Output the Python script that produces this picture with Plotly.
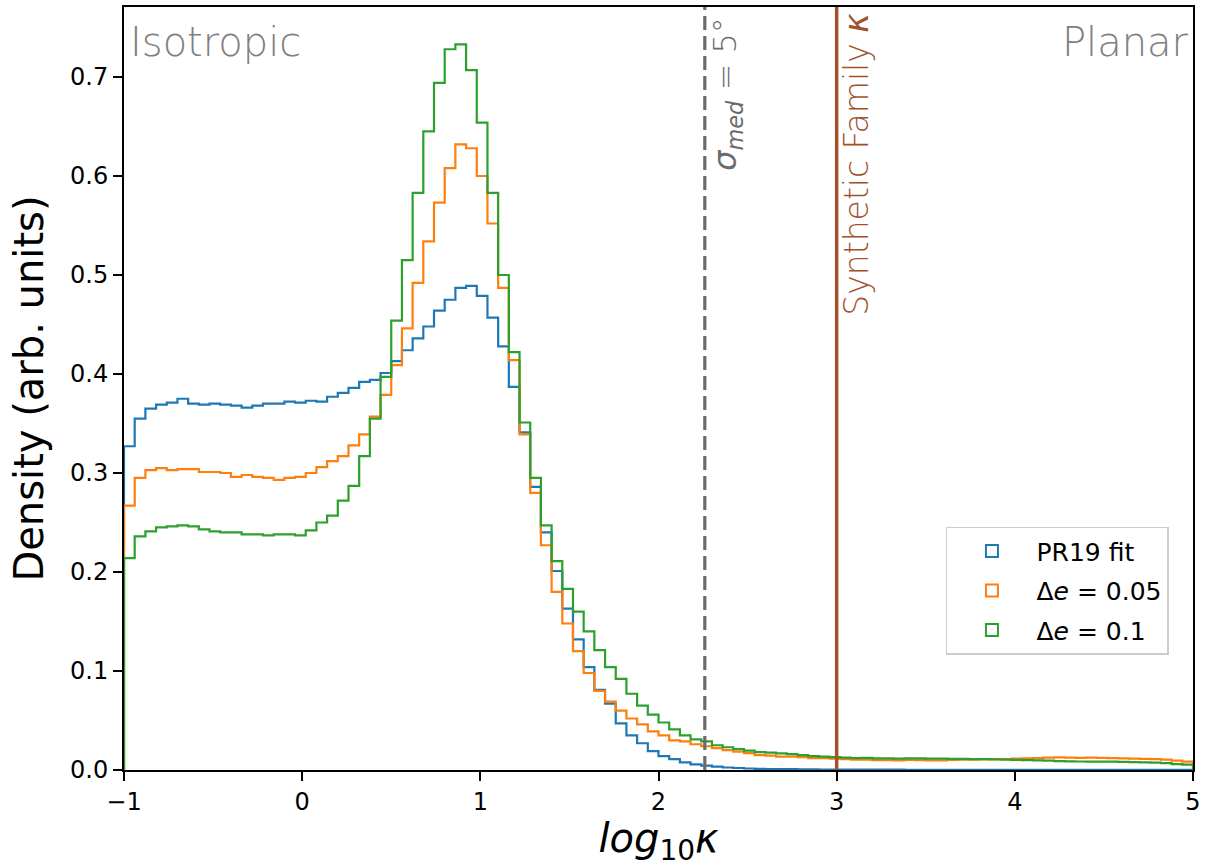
import numpy as np
import plotly.graph_objects as go

# ---------------- data ----------------
bin_lo, bin_hi, n_bins = -1.0, 5.0, 100
bin_edges = np.linspace(bin_lo, bin_hi, n_bins + 1)

pr19_fit = [
    0.327, 0.355, 0.365, 0.369, 0.371, 0.375, 0.370, 0.369, 0.370, 0.369,
    0.368, 0.366, 0.368, 0.370, 0.370, 0.372, 0.371, 0.373, 0.372, 0.377,
    0.381, 0.386, 0.392, 0.394, 0.401, 0.413, 0.424, 0.436, 0.448, 0.464,
    0.475, 0.487, 0.489, 0.479, 0.457, 0.428, 0.387, 0.341, 0.286, 0.240,
    0.201, 0.163, 0.132, 0.104, 0.081, 0.067, 0.047, 0.035, 0.027, 0.019,
    0.014, 0.011, 0.0077, 0.0057, 0.0044, 0.0034, 0.0025, 0.0020, 0.0015, 0.0012,
    0.0010, 0.0009, 0.0008, 0.0007, 0.0006, 0.0005, 0.0005, 0.0004, 0.0004, 0.0003,
    0.0003, 0.0003, 0.0003, 0.0002, 0.0002, 0.0002, 0.0002, 0.0002, 0.0002, 0.0002,
    0.0002, 0.0002, 0.0002, 0.0001, 0.0001, 0.0001, 0.0001, 0.0001, 0.0001, 0.0001,
    0.0001, 0.0001, 0.0001, 0.0001, 0.0001, 0.0001, 0.0001, 0.0001, 0.0001, 0.0001,
]

delta_e_005 = [
    0.267, 0.295, 0.303, 0.305, 0.303, 0.304, 0.304, 0.301, 0.301, 0.300,
    0.296, 0.298, 0.296, 0.295, 0.293, 0.295, 0.296, 0.300, 0.306, 0.312,
    0.317, 0.328, 0.339, 0.357, 0.379, 0.409, 0.446, 0.492, 0.534, 0.573,
    0.608, 0.632, 0.628, 0.600, 0.552, 0.487, 0.414, 0.339, 0.280, 0.227,
    0.180, 0.148, 0.120, 0.098, 0.080, 0.069, 0.060, 0.052, 0.046, 0.039,
    0.035, 0.030, 0.029, 0.026, 0.024, 0.022, 0.020, 0.0185, 0.017, 0.015,
    0.0145, 0.0135, 0.0135, 0.013, 0.012, 0.012, 0.0115, 0.011, 0.0105, 0.0105,
    0.010, 0.010, 0.0098, 0.0102, 0.010, 0.0098, 0.0098, 0.0102, 0.0105, 0.0105,
    0.0108, 0.011, 0.011, 0.0115, 0.0118, 0.012, 0.0125, 0.0128, 0.0125, 0.0122,
    0.0125, 0.0122, 0.012, 0.0118, 0.0115, 0.0113, 0.011, 0.0105, 0.0095, 0.0085,
]

delta_e_01 = [
    0.214, 0.236, 0.241, 0.245, 0.246, 0.247, 0.246, 0.243, 0.241, 0.240,
    0.240, 0.238, 0.238, 0.237, 0.238, 0.238, 0.237, 0.242, 0.250, 0.257,
    0.272, 0.287, 0.317, 0.355, 0.397, 0.454, 0.515, 0.583, 0.645, 0.694,
    0.728, 0.733, 0.707, 0.654, 0.583, 0.500, 0.422, 0.351, 0.295, 0.247,
    0.211, 0.183, 0.160, 0.140, 0.121, 0.104, 0.092, 0.077, 0.065, 0.056,
    0.048, 0.041, 0.035, 0.031, 0.029, 0.025, 0.023, 0.021, 0.0195, 0.018,
    0.0175, 0.0168, 0.016, 0.015, 0.014, 0.0135, 0.013, 0.0125, 0.012, 0.0122,
    0.0118, 0.0118, 0.0115, 0.0118, 0.0118, 0.0115, 0.0115, 0.0112, 0.0112, 0.011,
    0.011, 0.0108, 0.0105, 0.0102, 0.010, 0.0098, 0.0095, 0.009, 0.0088, 0.0086,
    0.0085, 0.0085, 0.0085, 0.0082, 0.008, 0.0078, 0.0075, 0.007, 0.006, 0.0055,
]

series_values = [pr19_fit, delta_e_005, delta_e_01]
series_names = ["PR19 fit", "Δ<i>e</i> = 0.05", "Δ<i>e</i> = 0.1"]
series_colors = ["#1f77b4", "#ff7f0e", "#2ca02c"]

sigma_med_logk = 2.26
synthetic_logk = 3.0

x_ticks = [-1, 0, 1, 2, 3, 4, 5]
x_ticklabels = ["\u22121", "0", "1", "2", "3", "4", "5"]
y_ticks = [0.0, 0.1, 0.2, 0.3, 0.4, 0.5, 0.6, 0.7]
y_ticklabels = ["0.0", "0.1", "0.2", "0.3", "0.4", "0.5", "0.6", "0.7"]
y_max = 0.7707

FONT = "DejaVu Sans"

fig = go.Figure()

# step histograms
for vals, name, col in zip(series_values, series_names, series_colors):
    xs = [bin_edges[0]] + list(bin_edges) + [bin_edges[-1]]
    ys = [0.0] + list(vals) + [vals[-1], 0.0]
    fig.add_trace(go.Scatter(
        x=xs, y=ys, mode="lines", line=dict(color=col, width=2.2, shape="hv"),
        name=name, showlegend=False, hoverinfo="skip"))

# legend entries as outlined patches
for i, (name, col) in enumerate(zip(series_names, series_colors)):
    fig.add_trace(go.Bar(
        x=[None], y=[None], name=name, legendgroup=f"g{i}",
        marker=dict(color="rgba(255,255,255,0)", line=dict(color=col, width=2)),
        showlegend=True))

# reference lines
fig.add_shape(type="line", xref="x", yref="paper", x0=sigma_med_logk, x1=sigma_med_logk,
              y0=0, y1=1, line=dict(color="#6b6b6b", width=3.2, dash="14px,6px"))
fig.add_shape(type="line", xref="x", yref="paper", x0=synthetic_logk, x1=synthetic_logk,
              y0=0, y1=1, line=dict(color="#a0522d", width=3.5))

# text annotations
fig.add_annotation(x=0, y=1, xref="paper", yref="paper", xanchor="left", yanchor="top",
                   text="Isotropic", showarrow=False, xshift=4, yshift=-10,
                   font=dict(family=FONT, size=40, color="#808080", weight=200))
fig.add_annotation(x=1, y=1, xref="paper", yref="paper", xanchor="right", yanchor="top",
                   text="Planar", showarrow=False, xshift=-2, yshift=-10,
                   font=dict(family=FONT, size=40, color="#808080", weight=200))
fig.add_annotation(x=sigma_med_logk, y=1, xref="x", yref="paper", xanchor="left", yanchor="top",
                   text="<i>σ</i><sub><i>med</i></sub> = 5°", textangle=-90, showarrow=False,
                   xshift=-1, yshift=-8,
                   font=dict(family=FONT, size=32, color="#6b6b6b", weight=200))
fig.add_annotation(x=synthetic_logk, y=1, xref="x", yref="paper", xanchor="left", yanchor="top",
                   text="Synthetic Family <i>κ</i>", textangle=-90, showarrow=False,
                   xshift=-2, yshift=-4,
                   font=dict(family=FONT, size=33, color="#a0522d", weight=200))

axis_common = dict(showgrid=False, zeroline=False, showline=True, linecolor="black",
                   linewidth=2, mirror=True, ticks="outside", ticklen=9, tickwidth=2,
                   tickcolor="black", automargin=False,
                   tickfont=dict(family=FONT, size=24, color="black"))

fig.update_layout(
    width=1206, height=867,
    margin=dict(l=124, r=13, t=7, b=97),
    paper_bgcolor="white", plot_bgcolor="white",
    font=dict(family=FONT, color="black"),
    xaxis=dict(range=[bin_lo, bin_hi], tickvals=x_ticks, ticktext=x_ticklabels,
               title=dict(text="<i>log</i><sub>10</sub><i>κ</i>",
                          font=dict(family=FONT, size=40, color="black"), standoff=12),
               **axis_common),
    yaxis=dict(range=[0, y_max], tickvals=y_ticks, ticktext=y_ticklabels,
               title=dict(text="Density (arb. units)",
                          font=dict(family=FONT, size=40, color="black"), standoff=14),
               **axis_common),
    legend=dict(x=0.9775, y=0.151, xanchor="right", yanchor="bottom",
                bgcolor="white", bordercolor="#cccccc", borderwidth=1.5,
                font=dict(family=FONT, size=25, color="black"),
                itemwidth=79, tracegroupgap=4),
    showlegend=True,
    bargap=0,
)

fig.write_html("out.html", config={"displayModeBar": False},
               post_script="document.body.style.margin='0';document.body.style.padding='0';")
